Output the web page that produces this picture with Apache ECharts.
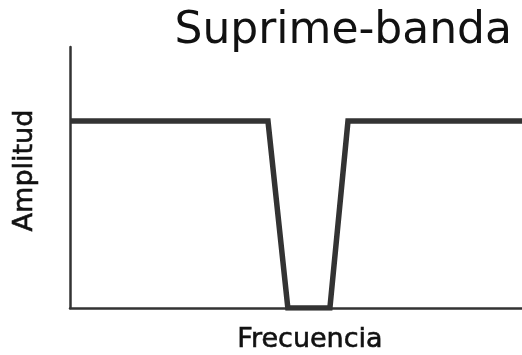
<!DOCTYPE html>
<html>
<head>
<meta charset="utf-8">
<script src="https://cdn.jsdelivr.net/npm/echarts@6/dist/echarts.min.js"></script>
<style>
    html, body { margin: 0; padding: 0; background: #fff; }
    #chart-box { width: 522px; height: 355px; }
</style>
</head>
<body>
<div id="chart-box"></div>
<script>
// frequency positions (0-100) and amplitude (0-100) of the notch response
const freq = [0, 43.8, 48.2, 57.5, 61.5, 100];
const amp = [71.6, 71.6, 0, 0, 71.6, 71.6];

function init(){
    const element = document.getElementById("chart-box");
    const instance = echarts.init(element);
    const points = freq.map((f, i) => [f, amp[i]]);
    let option = {
        animation: false,
        title: {
            text: 'Suprime-banda',
            right: 5,
            top: 5,
            textStyle: {
                color: '#111',
                fontSize: 44,
                fontWeight: 'normal',
                fontFamily: 'DejaVu Sans',
            },
        },
        grid: {
            left: 70,
            right: 0,
            top: 47,
            bottom: 47,
            outerBoundsMode: 'none',
        },
        xAxis: {
            type: 'value',
            min: 0,
            max: 100,
            name: 'Frecuencia',
            nameLocation: 'middle',
            nameGap: 18,
            nameTextStyle: {
                color: '#111',
                fontSize: 27,
                fontFamily: 'DejaVu Sans',
                verticalAlign: 'top',
                padding: [0, 0, 0, 28],
                textBorderColor: '#111',
                textBorderWidth: 0.6,
            },
            axisLine: { lineStyle: { color: '#333', width: 2.5 } },
            axisTick: { show: false },
            axisLabel: { show: false },
            splitLine: { show: false },
        },
        yAxis: {
            type: 'value',
            min: 0,
            max: 100,
            name: 'Amplitud',
            nameLocation: 'middle',
            nameGap: 32,
            nameTextStyle: {
                color: '#111',
                fontSize: 27,
                fontFamily: 'DejaVu Sans',
                padding: [0, 0, 0, 14],
                textBorderColor: '#111',
                textBorderWidth: 0.6,
            },
            axisLine: { show: true, lineStyle: { color: '#333', width: 2.5 } },
            axisTick: { show: false },
            axisLabel: { show: false },
            splitLine: { show: false },
        },
        series: [{
            type: 'line',
            data: points,
            symbol: 'none',
            lineStyle: { color: '#333', width: 5.5, join: 'miter' },
        }],
    };

    instance && instance.setOption(option)

    window.onresize = function(){
        instance.resize();
    }
}
init();
</script>
</body>
</html>
